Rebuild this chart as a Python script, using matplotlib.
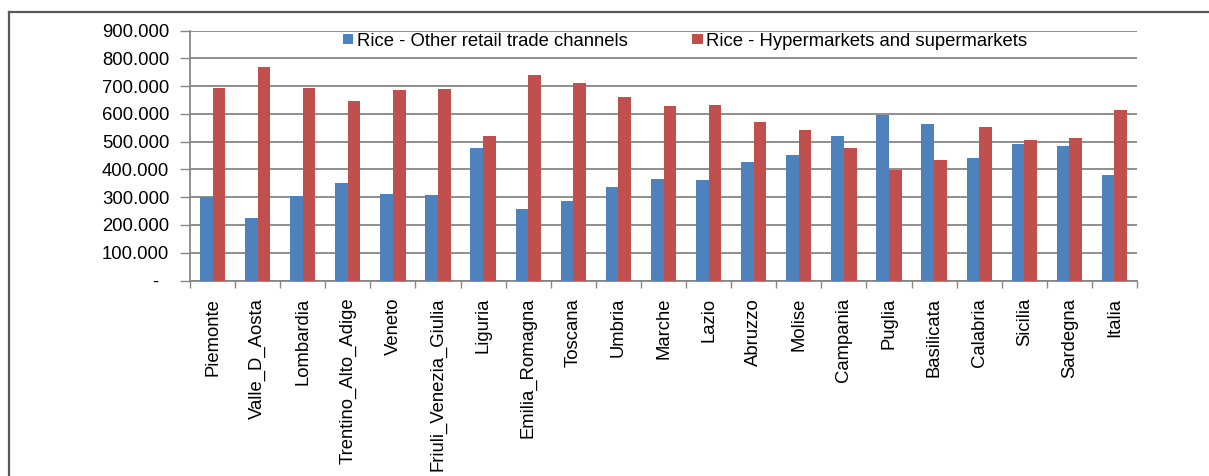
import numpy as np
import matplotlib
matplotlib.use("Agg")
import matplotlib.pyplot as plt
from matplotlib.lines import Line2D
from matplotlib.ticker import FuncFormatter, FixedLocator

regions = ["Piemonte", "Valle_D_Aosta", "Lombardia", "Trentino_Alto_Adige", "Veneto",
           "Friuli_Venezia_Giulia", "Liguria", "Emilia_Romagna", "Toscana", "Umbria",
           "Marche", "Lazio", "Abruzzo", "Molise", "Campania", "Puglia", "Basilicata",
           "Calabria", "Sicilia", "Sardegna", "Italia"]

other_retail = [302000, 225000, 304000, 352000, 311000, 309000, 477000, 257000, 286000,
                336000, 365000, 363000, 427000, 451000, 520000, 598000, 564000, 442000,
                493000, 483000, 380000]

hyper_super = [695000, 769000, 695000, 647000, 685000, 690000, 522000, 740000, 711000,
               661000, 628000, 631000, 571000, 544000, 477000, 399000, 433000, 553000,
               505000, 513000, 616000]

series_names = ["Rice - Other retail trade channels", "Rice - Hypermarkets and supermarkets"]
y_ticks = list(range(0, 900001, 100000))

BLUE = "#4F81BD"
RED = "#C0504D"
GRID = "#868686"
FONT = "Liberation Sans"
FS = 13.3

W, H = 1209, 476
fig = plt.figure(figsize=(W / 100, H / 100), dpi=100)
ax = fig.add_axes([190 / W, 1 - 280.5 / H, (1137 - 190) / W, (280.5 - 30.7) / H])

x = np.arange(len(regions))
bw = 0.28
ax.bar(x - bw / 2, other_retail, bw, color=BLUE, label=series_names[0], zorder=3)
ax.bar(x + bw / 2, hyper_super, bw, color=RED, label=series_names[1], zorder=3)

ax.set_xlim(-0.5, len(regions) - 0.5)
ax.set_ylim(0, 900000)

# y axis: dotted-thousands labels, dash for zero
ax.yaxis.set_major_locator(FixedLocator(y_ticks))
ax.yaxis.set_major_formatter(FuncFormatter(
    lambda v, p: "-  " if v == 0 else f"{int(v):,}".replace(",", ".")))
ax.yaxis.grid(True, color=GRID, linewidth=1.3, zorder=0)
ax.tick_params(axis="y", length=7, width=1, color=GRID, pad=8,
               labelsize=FS, labelcolor="black")

# x axis: labels at group centres, tick marks at group boundaries
ax.set_xticks(x)
ax.set_xticklabels(regions, rotation=90, fontsize=FS, fontfamily=FONT, va="top", ha="center")
ax.set_xticks(np.arange(-0.5, len(regions), 1.0), minor=True)
ax.tick_params(axis="x", which="major", length=0, pad=12.5)
ax.tick_params(axis="x", which="minor", length=5, width=1, color=GRID)
for lbl in ax.get_yticklabels():
    lbl.set_fontfamily(FONT)

for side in ("top", "right"):
    ax.spines[side].set_visible(False)
for side in ("left", "bottom"):
    ax.spines[side].set_color(GRID)
    ax.spines[side].set_linewidth(1.3)

leg = fig.legend(loc="center left", bbox_to_anchor=(343 / W, 1 - 41.3 / H),
                 ncol=2, frameon=False, prop={"family": FONT, "size": FS},
                 handlelength=0.55, handleheight=0.45, handletextpad=0.2,
                 columnspacing=3.5, borderpad=0, borderaxespad=0)

# chart-area frame (left and top edges)
frame_c = "#595959"
fig.add_artist(Line2D([9 / W, 9 / W], [0, 1 - 12 / H], color=frame_c, linewidth=1.6,
                      transform=fig.transFigure))
fig.add_artist(Line2D([9 / W, 1], [1 - 12 / H, 1 - 12 / H], color=frame_c, linewidth=1.6,
                      transform=fig.transFigure))

fig.savefig("out.png", dpi=100)
